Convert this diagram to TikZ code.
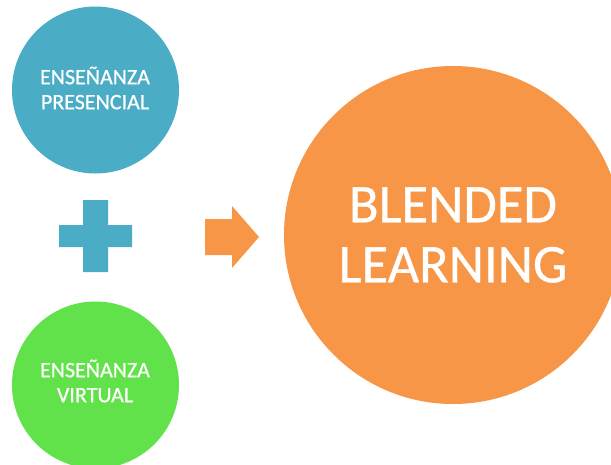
\documentclass[tikz,border=0pt]{standalone}
\usepackage{fontspec}
\setmainfont{Carlito}
\newfontfamily\semib[FakeBold=0.6]{Carlito}
\definecolor{tealc}{HTML}{4BACC6}
\definecolor{greenc}{HTML}{62E24A}
\definecolor{orangec}{HTML}{F79646}
\begin{document}
\begin{tikzpicture}[x=1pt,y=-1pt,
  disc/.style={circle,fill=#1,draw=none,inner sep=0pt},
  small/.style={text=white,align=center,inner sep=0pt,font=\semib\fontsize{22}{25}\selectfont}]
\useasboundingbox (0,0) rectangle (611,464);
\fill[white] (0,0) rectangle (611,464);
\node[disc=tealc,minimum size=167pt] (a) at (95.5,90) {};
\node[small] (at) at (95,88) {ENSEÑANZA\\PRESENCIAL};
\node[disc=greenc,minimum size=167pt] (b) at (95.5,385) {};
\node[small] (bt) at (95,381) {ENSEÑANZA\\VIRTUAL};
\node[disc=orangec,minimum size=338pt,text=white,align=center,font=\semib\fontsize{54.5}{60}\selectfont] (c) at (453,235) {BLENDED\\LEARNING};
\fill[tealc] (83,200) -- (108,200) -- (108,225) -- (132,225) -- (132,247) -- (108,247) -- (108,272) -- (83,272) -- (83,247) -- (59,247) -- (59,225) -- (83,225) -- cycle;
\fill[orangec] (205,219) -- (232,219) -- (232,206) -- (259,237) -- (232,268) -- (232,255) -- (205,255) -- cycle;
\end{tikzpicture}
\end{document}
